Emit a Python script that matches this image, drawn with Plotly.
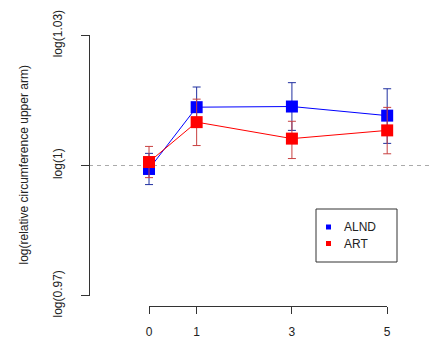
import plotly.graph_objects as go

# ---- data ----
months = [0, 1, 3, 5]
x_ticks = [0, 1, 3, 5]
y_tickvals = [-0.03, 0.0, 0.03]
y_ticktext = ["log(0.97)", "log(1)", "log(1.03)"]

alnd_mean = [-0.0008, 0.01345, 0.0136, 0.0115]
alnd_upper = [0.0028, 0.0181, 0.0191, 0.0177]
alnd_lower = [-0.0044, 0.0088, 0.0081, 0.0051]

art_mean = [0.0008, 0.0100, 0.0062, 0.0081]
art_upper = [0.0044, 0.0153, 0.0102, 0.0134]
art_lower = [-0.0028, 0.0046, 0.0016, 0.0027]

series_names = ["ALND", "ART"]
y_title = "log(relative circumference upper arm)"

# ---- styling ----
BLUE = "#0000FF"
RED = "#FF0000"
AXC = "#333333"
TXT = "#222222"
FONT = "Liberation Sans, Arial, sans-serif"

PAGE_OFF = 8            # default body margin of the html page
WIN_W, WIN_H = 441, 348
PLOT_L, PLOT_R, PLOT_T, PLOT_B = 89, 441, 25, 306   # plot area in window px

x_range = [-1.26, 6.13]
y_range = [-0.0324, 0.0324]


def frac(v, r):
    return (v - r[0]) / (r[1] - r[0])


def px_x(px):
    return (px - PLOT_L) / (PLOT_R - PLOT_L)


def px_y(py):
    return (PLOT_B - py) / (PLOT_B - PLOT_T)


fig = go.Figure()


def add_series(name, mean, upper, lower, color, errcolor):
    plus = [u - m for u, m in zip(upper, mean)]
    minus = [m - l for m, l in zip(mean, lower)]
    fig.add_trace(go.Scatter(
        x=months, y=mean, mode="lines+markers", name=name, showlegend=False,
        line=dict(color=color, width=1),
        marker=dict(symbol="square", size=12, color=color),
        error_y=dict(type="data", array=plus, arrayminus=minus, visible=True,
                     color=errcolor, thickness=1, width=4),
        hoverinfo="skip",
    ))


add_series(series_names[0], alnd_mean, alnd_upper, alnd_lower, BLUE, "#2030A0")
add_series(series_names[1], art_mean, art_upper, art_lower, RED, "#C84040")

# invisible trace so the R-style axes subplot exists
fig.add_trace(go.Scatter(
    x=[x_ticks[0], x_ticks[-1]], y=[y_tickvals[0], y_tickvals[-1]],
    xaxis="x2", yaxis="y2", mode="markers", marker=dict(opacity=0),
    showlegend=False, hoverinfo="skip",
))

# reference dashed line at log(1)
fig.add_shape(type="line", xref="paper", x0=0, x1=1, yref="y", y0=0, y1=0,
              line=dict(color="#AAAAAA", width=1, dash="4px,4px"), layer="below")

# R-style legend box
fig.add_shape(type="rect", xref="paper", yref="paper",
              x0=px_x(316), x1=px_x(397), y0=px_y(262), y1=px_y(209),
              line=dict(color=AXC, width=1), fillcolor="white", layer="above")
annotations = []
for i, (name, color) in enumerate(zip(series_names, [BLUE, RED])):
    row = 227 + 16.5 * i
    fig.add_shape(type="rect", xref="paper", yref="paper",
                  x0=px_x(326), x1=px_x(331), y0=px_y(row + 2.5), y1=px_y(row - 2.5),
                  line=dict(width=0), fillcolor=color, layer="above")
    annotations.append(dict(
        text=name, xref="paper", yref="paper", x=px_x(342), y=px_y(row),
        xanchor="left", yanchor="middle", showarrow=False,
        font=dict(size=12, color=TXT),
    ))

annotations.append(dict(
    text=y_title, textangle=-90, xref="paper", yref="paper",
    x=0, y=0.5, xshift=-66, xanchor="center", yanchor="middle",
    showarrow=False, font=dict(size=12, color=TXT),
))

fig.update_layout(
    width=WIN_W - PAGE_OFF, height=WIN_H - PAGE_OFF,
    margin=dict(l=PLOT_L - PAGE_OFF, r=WIN_W - PLOT_R, t=PLOT_T - PAGE_OFF,
                b=WIN_H - PLOT_B),
    paper_bgcolor="white", plot_bgcolor="rgba(0,0,0,0)",
    font=dict(family=FONT, size=12, color=TXT),
    showlegend=False,
    xaxis=dict(range=x_range, visible=False, domain=[0, 1], automargin=False),
    yaxis=dict(range=y_range, visible=False, domain=[0, 1], automargin=False),
    xaxis2=dict(
        range=[x_ticks[0], x_ticks[-1]],
        domain=[frac(x_ticks[0], x_range), frac(x_ticks[-1], x_range)],
        anchor="free", position=0, automargin=False,
        showline=True, linecolor=AXC, linewidth=1,
        ticks="outside", ticklen=7, tickcolor=AXC, tickwidth=1,
        tickvals=x_ticks, ticktext=[str(t) for t in x_ticks],
        showgrid=False, zeroline=False, ticklabelstandoff=8,
        tickfont=dict(size=12, color=TXT),
    ),
    yaxis2=dict(
        range=[y_tickvals[0], y_tickvals[-1]],
        domain=[frac(y_tickvals[0], y_range), frac(y_tickvals[-1], y_range)],
        anchor="free", position=0, automargin=False,
        showline=True, linecolor=AXC, linewidth=1,
        ticks="outside", ticklen=8, tickcolor=AXC, tickwidth=1,
        tickvals=y_tickvals, ticktext=y_ticktext, tickangle=-90,
        showgrid=False, zeroline=False, ticklabelstandoff=14,
        tickfont=dict(size=12, color=TXT),
    ),
    annotations=annotations,
)

fig.write_html("out.html")
